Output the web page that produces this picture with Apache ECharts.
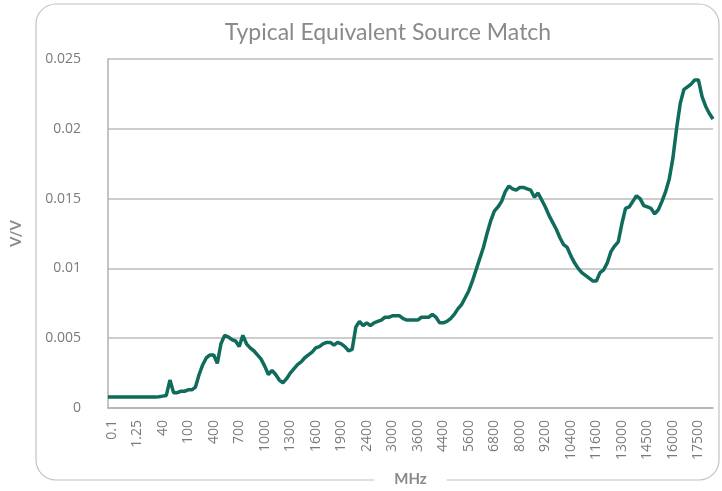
<!DOCTYPE html>
<html>
<head>
<meta charset="utf-8">
<script src="https://cdn.jsdelivr.net/npm/echarts@6/dist/echarts.min.js"></script>
<style>
  html, body { margin: 0; padding: 0; background: #fff; }
  #chart { width: 722px; height: 491px; }
</style>
</head>
<body>
<div id="chart"></div>
<script>
// tick labels on the frequency axis (MHz)
var tickLabels = ['0.1', '1.25', '40', '100', '400', '700', '1000', '1300', '1600', '1900',
    '2400', '3000', '3600', '4400', '5600', '6800', '8000', '9200', '10400', '11600',
    '13000', '14500', '16000', '17500'];
var pointsPerLabel = 7;   // data points between two labels
var firstLabelAt = 1;     // index of the point under the first label

// equivalent source match, V/V
var sourceMatch = [
    0.00078, 0.00078, 0.00078, 0.00078, 0.00078, 0.00078, 0.00078, 0.00078, 0.00078, 0.00078,
    0.00078, 0.00078, 0.00078, 0.00078, 0.0008, 0.00085, 0.0009, 0.0020, 0.0011, 0.0011,
    0.0012, 0.0012, 0.0013, 0.0013, 0.0015, 0.0024, 0.0031, 0.0036, 0.0038, 0.0038,
    0.0032, 0.0046, 0.0052, 0.0051, 0.0049, 0.0048, 0.0044, 0.0052, 0.0046, 0.0043,
    0.0041, 0.0038, 0.0035, 0.0030, 0.0024, 0.0027, 0.0024, 0.0020, 0.0018, 0.0021,
    0.0025, 0.0028, 0.0031, 0.0033, 0.0036, 0.0038, 0.0040, 0.0043, 0.0044, 0.0046,
    0.0047, 0.0047, 0.0045, 0.0047, 0.0046, 0.0044, 0.0041, 0.0042, 0.0058, 0.0062,
    0.0059, 0.0061, 0.0059, 0.0061, 0.0062, 0.0063, 0.0065, 0.0065, 0.0066, 0.0066,
    0.0066, 0.0064, 0.0063, 0.0063, 0.0063, 0.0063, 0.0065, 0.0065, 0.0065, 0.0067,
    0.0065, 0.0061, 0.0061, 0.0062, 0.0064, 0.0067, 0.0071, 0.0074, 0.0079, 0.0084,
    0.0091, 0.0099, 0.0107, 0.0115, 0.0125, 0.0134, 0.0141, 0.0144, 0.0148, 0.0155,
    0.0159, 0.0157, 0.0156, 0.0158, 0.0158, 0.0157, 0.0156, 0.0151, 0.0154, 0.0149,
    0.0144, 0.0138, 0.0133, 0.0128, 0.0122, 0.0117, 0.0115, 0.0109, 0.0104, 0.0100,
    0.0097, 0.0095, 0.0093, 0.0091, 0.0091, 0.0097, 0.0099, 0.0104, 0.0112, 0.0116,
    0.0119, 0.0132, 0.0143, 0.0144, 0.0148, 0.0152, 0.0150, 0.0145, 0.0144, 0.0143,
    0.0139, 0.0142, 0.0148, 0.0155, 0.0164, 0.0179, 0.0200, 0.0218, 0.0228, 0.0230,
    0.0232, 0.0235, 0.0235, 0.0223, 0.0216, 0.0211, 0.0207
];

var isLabelPoint = function (idx) {
    return idx >= firstLabelAt && (idx - firstLabelAt) % pointsPerLabel === 0;
};

var myChart = echarts.init(document.getElementById('chart'), null, {renderer: 'canvas'});
var option = {
    backgroundColor: '#fff',
    animation: false,
    title: {
        text: 'Typical Equivalent Source Match',
        left: 383,
        textAlign: 'center',
        top: 16,
        textStyle: {
            fontFamily: 'Lato',
            fontWeight: 'normal',
            fontSize: 23,
            color: '#8a8a8a'
        }
    },
    // rounded frame round the whole chart
    graphic: [{
        type: 'rect',
        z: -10,
        shape: {x: 36, y: 4, width: 683, height: 476, r: 20},
        style: {fill: 'none', stroke: '#c2c2c2', lineWidth: 1.2}
    }],
    grid: {
        left: 108,
        right: 9,
        top: 59,
        bottom: 83,
        outerBoundsMode: 'none'
    },
    xAxis: {
        type: 'category',
        boundaryGap: false,
        data: sourceMatch.map(function (v, i) { return String(i); }),
        name: 'MHz',
        nameLocation: 'middle',
        nameGap: 62,
        nameTextStyle: {
            fontFamily: 'Lato',
            fontWeight: 'bold',
            fontSize: 15,
            color: '#8a8a8a',
            backgroundColor: '#fff',
            padding: [2, 20]
        },
        axisLine: {lineStyle: {color: '#b0b0b0', width: 1.5}},
        axisTick: {show: false},
        axisLabel: {
            rotate: 90,
            margin: 12,
            fontFamily: 'Open Sans',
            fontSize: 14,
            color: '#7a7a7a',
            interval: function (idx) { return isLabelPoint(idx); },
            formatter: function (val, idx) {
                return isLabelPoint(idx) ? tickLabels[(idx - firstLabelAt) / pointsPerLabel] : '';
            }
        },
        splitLine: {show: false}
    },
    yAxis: {
        type: 'value',
        min: 0,
        max: 0.025,
        interval: 0.005,
        name: 'V/V',
        nameLocation: 'middle',
        nameGap: 84,
        nameTextStyle: {
            fontFamily: 'Lato',
            fontWeight: 'bold',
            fontSize: 15,
            color: '#8a8a8a'
        },
        axisLine: {show: true, lineStyle: {color: '#b0b0b0', width: 1.5}},
        axisTick: {show: false},
        axisLabel: {
            margin: 27,
            fontFamily: 'Open Sans',
            fontSize: 14,
            color: '#7a7a7a'
        },
        splitLine: {lineStyle: {color: '#bdbdbd', width: 1.5}}
    },
    series: [{
        type: 'line',
        data: sourceMatch,
        symbol: 'none',
        lineStyle: {color: '#0f6b5b', width: 3.5},
        itemStyle: {color: '#0f6b5b'}
    }]
};
myChart.setOption(option);
window.addEventListener('resize', function () { myChart.resize(); });
</script>
</body>
</html>
